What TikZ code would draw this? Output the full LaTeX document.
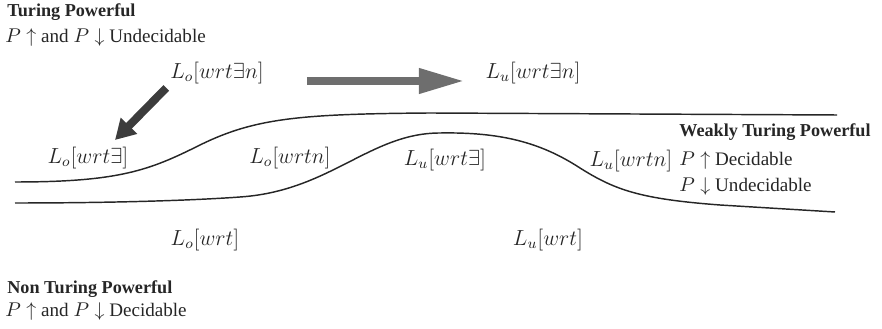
\documentclass[tikz,border=0pt]{standalone}
\usepackage[no-math]{fontspec}
\setmainfont{Liberation Serif}
\usepackage{amsmath,amssymb}
\usetikzlibrary{arrows.meta,calc}
\definecolor{ink}{HTML}{262626}
\definecolor{arrowgray}{HTML}{6E6E6E}
\definecolor{arrowdark}{HTML}{3C3C3C}
\tikzset{
  lang/.style={inner sep=2pt,font=\fontsize{11.5}{13}\selectfont,text=ink},
  cls/.style={anchor=west,inner sep=0pt,font=\bfseries\fontsize{10}{12}\selectfont,text=ink},
  prop/.style={anchor=west,inner sep=0pt,font=\fontsize{10.5}{12}\selectfont,text=ink},
  bnd/.style={draw=ink,line width=0.8pt},
  fat/.style={-{Triangle[length=25pt,width=13pt]},line width=4.4pt,draw=arrowgray},
  slant/.style={-{Triangle[length=11pt,width=12pt]},line width=4.4pt,draw=arrowdark},
}
\begin{document}
\begin{tikzpicture}[x=0.55pt,y=-0.55pt]
  \useasboundingbox (0,0) rectangle (882,329);
  % class headings and their properties
  \node[cls] (tp) at (7,12) {Turing Powerful};
  \node[prop] (tp-p) at (5,38) {$P\uparrow$ and $P\downarrow$ Undecidable};
  \node[cls] (wtp) at (679,132) {Weakly Turing Powerful};
  \node[prop] (wtp-up) at (679,161) {$P\uparrow$ Decidable};
  \node[prop] (wtp-dn) at (679,187) {$P\downarrow$ Undecidable};
  \node[cls] (ntp) at (7,289) {Non Turing Powerful};
  \node[prop] (ntp-p) at (5,312) {$P\uparrow$ and $P\downarrow$ Decidable};
  % languages
  \node[lang] (lo-en) at (217,73) {$L_o[wrt\exists n]$};
  \node[lang] (lu-en) at (533,73) {$L_u[wrt\exists n]$};
  \node[lang] (lo-e) at (88,158) {$L_o[wrt\exists]$};
  \node[lang] (lo-n) at (290,158) {$L_o[wrtn]$};
  \node[lang] (lu-e) at (445,160) {$L_u[wrt\exists]$};
  \node[lang] (lu-n) at (631,161) {$L_u[wrtn]$};
  \node[lang] (lo) at (205,240) {$L_o[wrt]$};
  \node[lang] (lu) at (548,240) {$L_u[wrt]$};
  % boundaries between the classes
  \draw[bnd] (15,182) .. controls (120,182) and (150,170) .. (200,145)
    .. controls (255,118) and (300,114) .. (430,113) -- (837,115);
  \draw[bnd] (15,203) .. controls (120,203) and (200,200) .. (240,197)
    .. controls (330,191) and (370,133) .. (440,133)
    .. controls (500,132) and (540,142) .. (580,168)
    .. controls (615,190) and (640,199) .. (720,205) -- (835,212);
  % arrows
  \coordinate (tip) at (115,140);
  \draw[fat,shorten <=21.5pt,shorten >=9.4pt] ([yshift=-4.4pt]lo-en.east) -- ([yshift=-4.4pt]lu-en.west);
  \draw[slant] (lo-en.south west) -- (tip);
\end{tikzpicture}
\end{document}
